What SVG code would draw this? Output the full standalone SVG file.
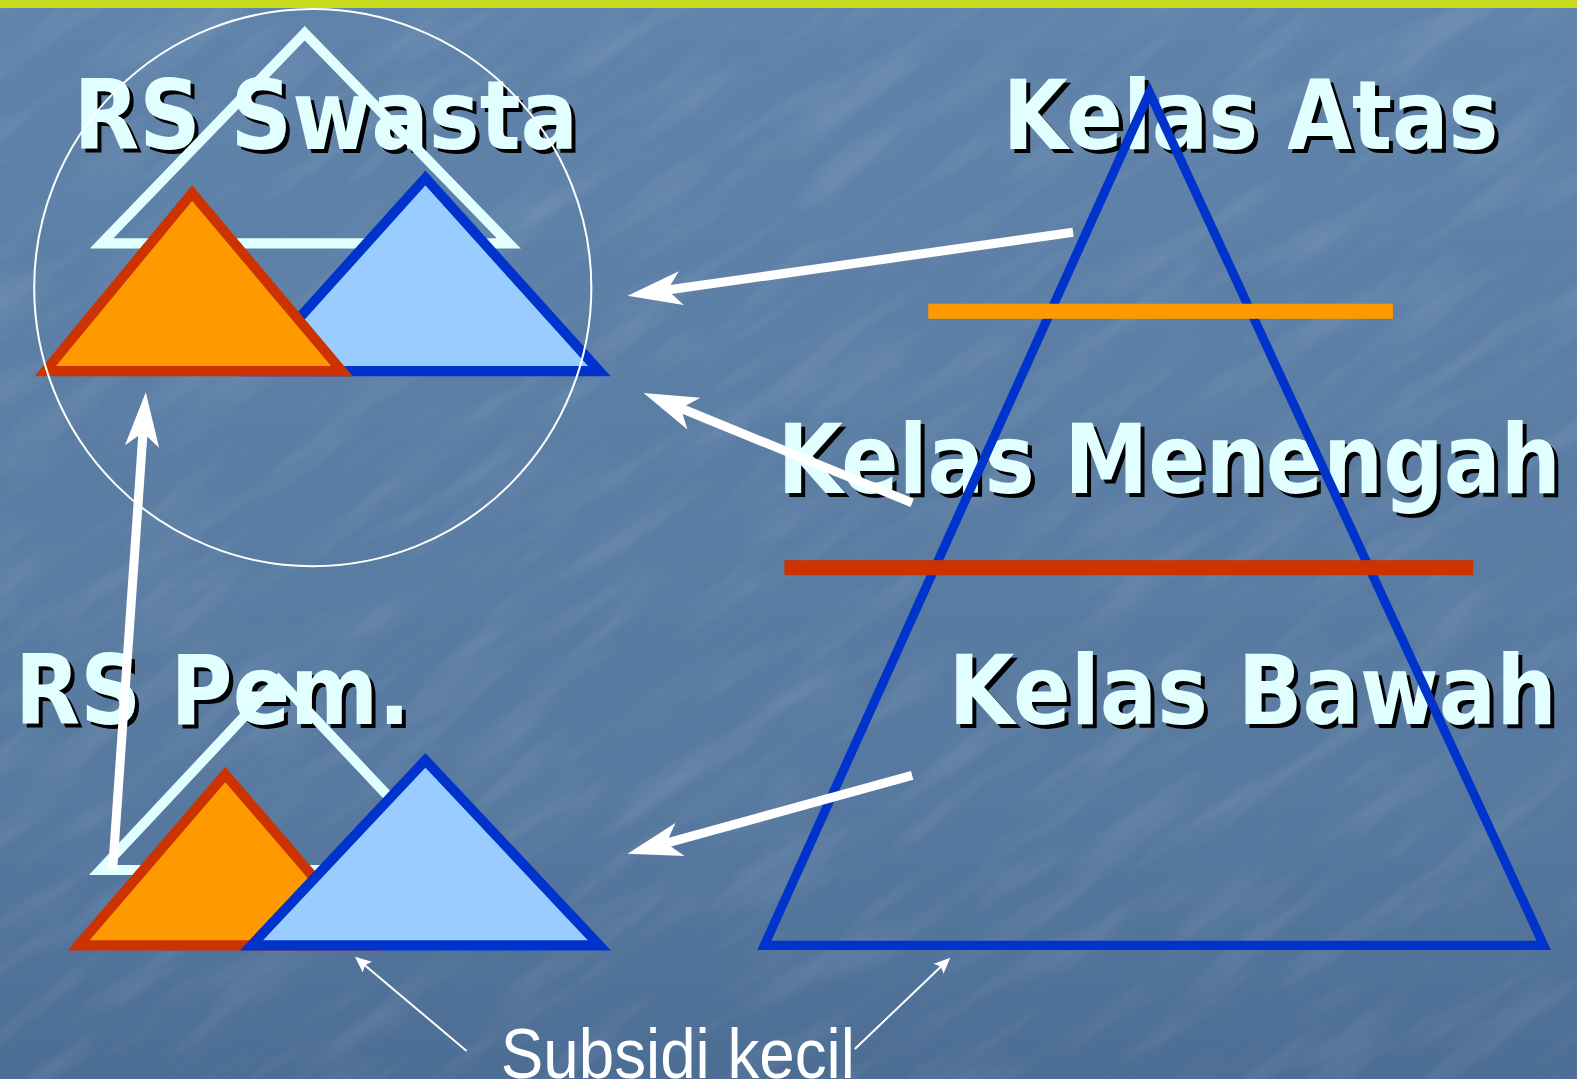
<svg xmlns="http://www.w3.org/2000/svg" width="1577" height="1079" viewBox="0 0 1577 1079">
<defs>
<linearGradient id="bg" x1="0" y1="0" x2="0" y2="1">
<stop offset="0" stop-color="#6083AB"/>
<stop offset="0.75" stop-color="#57799F"/>
<stop offset="1" stop-color="#4C6D94"/>
</linearGradient>
<filter id="tex" x="0" y="0" width="1" height="1">
<feTurbulence type="fractalNoise" baseFrequency="0.006 0.035" numOctaves="3" seed="7" result="n"/>
<feColorMatrix type="matrix" values="0 0 0 0 1  0 0 0 0 1  0 0 0 0 1  0 0 0 0.9 -0.4"/>
</filter>
<marker id="big" markerUnits="userSpaceOnUse" markerWidth="80" markerHeight="60" refX="0" refY="0" viewBox="-20 -30 80 60" orient="auto" overflow="visible">
<path d="M40,0 L-14,-17 L0,0 L-14,17 Z" fill="#FFFFFF"/>
</marker>
<marker id="small" markerUnits="userSpaceOnUse" markerWidth="30" markerHeight="20" refX="0" refY="0" viewBox="-10 -10 30 20" orient="auto" overflow="visible">
<path d="M4,0 L-12,-7 L-9,0 L-12,7 Z" fill="#FFFFFF"/>
</marker>
<clipPath id="page"><rect x="0" y="0" width="1577" height="1079"/></clipPath>
</defs>
<style>
.h{font-family:"DejaVu Sans","Verdana",sans-serif;font-weight:bold;font-size:96px}
.sh{fill:#000000}
.fg{fill:#E2FFFF}
.tri{stroke-width:10;stroke-linejoin:miter;stroke-miterlimit:10}
.wt{fill:none;stroke:#E2FFFF}
.or{fill:#FF9900;stroke:#CC3300}
.bl{fill:#99CCFF;stroke:#0033CC}
.arr{stroke:#FFFFFF;stroke-width:9;fill:none;marker-end:url(#big)}
.thin{stroke:#FFFFFF;stroke-width:2;fill:none;marker-end:url(#small)}
</style>
<rect x="0" y="0" width="1577" height="1079" fill="url(#bg)"/>
<g clip-path="url(#page)" opacity="0.22">
<g transform="rotate(-35 788 540)">
<rect x="-500" y="-500" width="2600" height="2100" filter="url(#tex)"/>
</g>
</g>
<rect x="0" y="0" width="1577" height="8" fill="#C9DB1E"/>

<g transform="scale(1.0057)">
<g id="label-rs-swasta">
<text class="h sh" x="77" y="152" textLength="502" lengthAdjust="spacingAndGlyphs">RS Swasta</text>
<text class="h fg" x="73" y="148" textLength="502" lengthAdjust="spacingAndGlyphs">RS Swasta</text>
</g>
<g id="label-kelas-atas">
<text class="h sh" x="1001" y="152" textLength="493" lengthAdjust="spacingAndGlyphs">Kelas Atas</text>
<text class="h fg" x="997" y="148" textLength="493" lengthAdjust="spacingAndGlyphs">Kelas Atas</text>
</g>
<g id="label-kelas-menengah">
<text class="h sh" x="777" y="494" textLength="779" lengthAdjust="spacingAndGlyphs">Kelas Menengah</text>
<text class="h fg" x="773" y="490" textLength="779" lengthAdjust="spacingAndGlyphs">Kelas Menengah</text>
</g>
<g id="label-kelas-bawah">
<text class="h sh" x="947" y="724" textLength="605" lengthAdjust="spacingAndGlyphs">Kelas Bawah</text>
<text class="h fg" x="943" y="720" textLength="605" lengthAdjust="spacingAndGlyphs">Kelas Bawah</text>
</g>
<g id="label-rs-pem">
<text class="h sh" x="19" y="724" textLength="393" lengthAdjust="spacingAndGlyphs">RS Pem.</text>
<text class="h fg" x="15" y="720" textLength="393" lengthAdjust="spacingAndGlyphs">RS Pem.</text>
</g>

<g id="rs-swasta-shapes">
<polygon class="tri wt" points="303,33 101,242 506,242"/>
<polygon class="tri bl" points="423,177 250,369 596,369"/>
<polygon class="tri or" points="191,192 45,369 340,369"/>
</g>

<g id="rs-pem-shapes">
<polygon class="tri wt" points="277,676 100,865 455,865"/>
<polygon class="tri or" points="224,770 78,940 370,940"/>
<polygon class="tri bl" points="423,756 250,940 596,940"/>
</g>

<g id="pyramid">
<polygon points="1143,92 760,940 1535,940" fill="none" stroke="#0033CC" stroke-width="9" stroke-miterlimit="10"/>
<rect x="923" y="302" width="462" height="15" fill="#FF9900"/>
<rect x="780" y="557" width="685" height="15" fill="#CC3300"/>
</g>

<g id="circle">
<ellipse cx="311" cy="286" rx="277" ry="277" fill="none" stroke="#FFFFFF" stroke-width="2"/>
</g>

<g id="connectors">
<line class="arr" x1="1067" y1="231" x2="663.6" y2="288.4"/>
<line class="arr" x1="907" y1="500" x2="677" y2="406"/>
<line class="arr" x1="907" y1="771" x2="662.6" y2="838.4"/>
<line class="arr" x1="112" y1="865" x2="142.2" y2="430"/>
<line class="thin" x1="464" y1="1045" x2="356" y2="954"/>
<line class="thin" x1="850" y1="1043" x2="942" y2="955"/>
</g>

<g id="label-subsidi">
<text x="498" y="1072" font-family="'Liberation Sans',Arial,sans-serif" font-size="70" fill="#FFFFFF" textLength="352" lengthAdjust="spacingAndGlyphs">Subsidi kecil</text>
</g>
</g>
</svg>
